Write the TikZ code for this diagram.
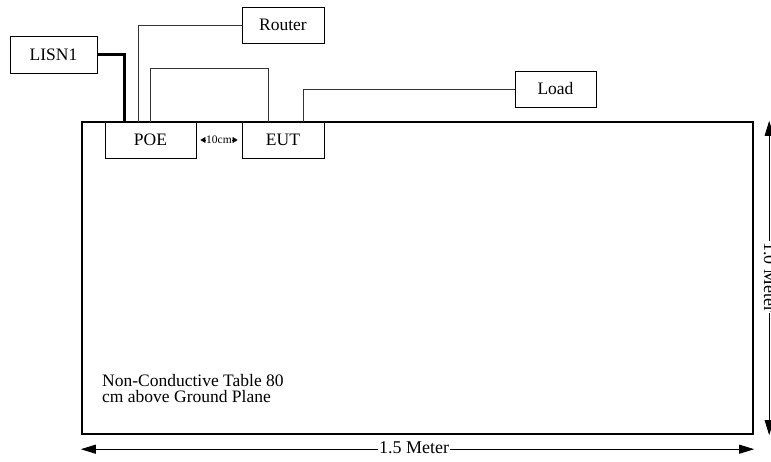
\documentclass[tikz,border=0pt]{standalone}
\usepackage{fontspec}
\setmainfont{Liberation Serif}
\usetikzlibrary{arrows.meta}
\begin{document}
\begin{tikzpicture}[x=1pt,y=-1pt,
  box/.style={draw, line width=0.9pt, fill=white, inner sep=0, font=\fontsize{17.5}{17.5}\selectfont},
  wire/.style={line width=0.9pt, draw=black!80},
  thickwire/.style={line width=2.4pt},
  dim/.style={line width=0.8pt, {Triangle[length=15pt,width=9pt]}-{Triangle[length=15pt,width=9pt]}},
  lbl/.style={fill=white, inner sep=1pt, font=\fontsize{18}{18}\selectfont}]
\useasboundingbox (0,0) rectangle (771,462);
% table
\node[draw, line width=2.4pt, minimum width=671pt, minimum height=312pt, inner sep=0] (table) at (417.5,278) {};
% boxes
\node[box, minimum width=87pt, minimum height=37pt] (lisn) at (53.5,54.5) {LISN1};
\node[box, minimum width=82pt, minimum height=36pt] (router) at (283,25) {Router};
\node[box, minimum width=81pt, minimum height=36pt] (load) at (555.5,89) {Load};
\node[box, minimum width=91pt, minimum height=36pt] (poe) at (150.5,140) {POE};
\node[box, minimum width=82pt, minimum height=36pt] (eut) at (283,140) {EUT};
% wires
\draw[thickwire] (lisn.east) -| ([xshift=20pt]poe.north west);
\draw[wire] (router.west) -| ([xshift=34pt]poe.north west);
\draw[wire] ([xshift=46pt]poe.north west) -- ++(0,-53) -| ([xshift=27pt]eut.north west);
\draw[wire] ([xshift=62pt]eut.north west) |- (load.west);
% 10cm
\draw[line width=0.5pt, {Triangle[length=5pt,width=6pt]}-{Triangle[length=5pt,width=6pt]}] ([xshift=4pt]poe.east) -- ([xshift=-4pt]eut.west)
  node[midway, fill=white, inner sep=0.3pt, font=\fontsize{11.5}{11.5}\selectfont] (ten) {10cm};
% table text
\node[anchor=north west, align=left, inner sep=0, font=\fontsize{17.5}{16}\selectfont] (note) at (102,374) {Non-Conductive Table 80\\cm above Ground Plane};
% dimensions
\coordinate (hl) at ([yshift=-14pt]table.south west);
\coordinate (hr) at ([yshift=-14pt]table.south east);
\draw[dim] (hl) -- (hr);
\node[lbl] (hlab) at (414,448) {1.5 Meter};
\coordinate (vt) at ([xshift=15pt]table.north east);
\coordinate (vb) at ([xshift=15pt]table.south east);
\draw[dim] (vt) -- (vb);
\node[lbl, rotate=-90] (vlab) at (770,277) {1.0 Meter};
\end{tikzpicture}
\end{document}
